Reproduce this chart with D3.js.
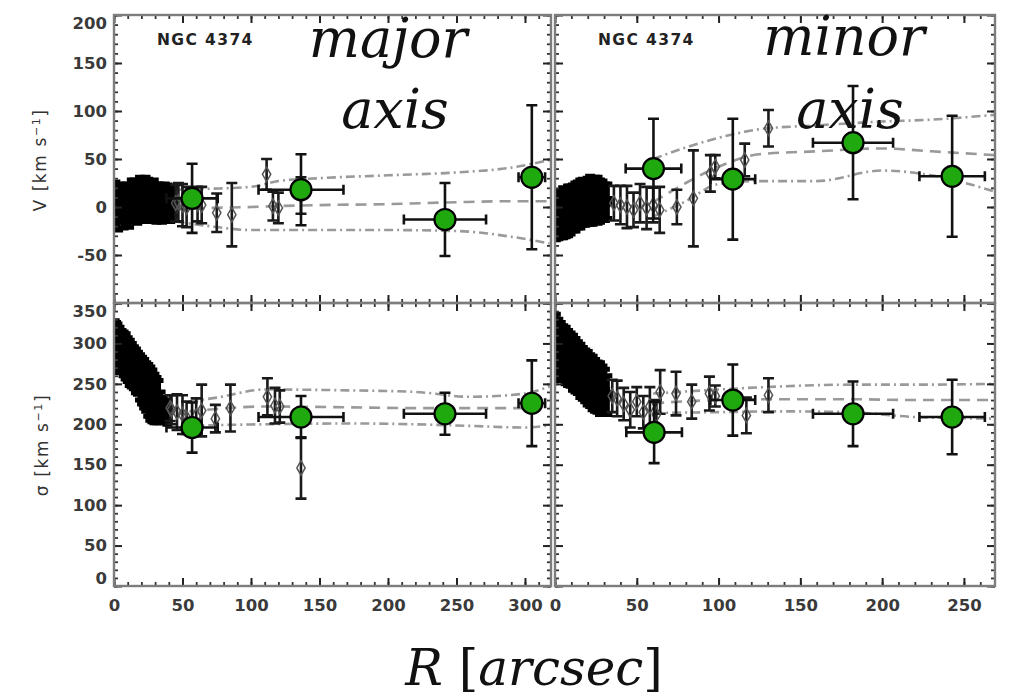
<!DOCTYPE html>
<html>
<head>
<meta charset="utf-8">
<script src="https://cdn.jsdelivr.net/npm/d3@7"></script>
<style>
  body { margin: 0; background: #fff; }
  svg { display: block; }
</style>
</head>
<body>
<svg id="chart" width="1020" height="697"></svg>
<script>
// ---- binned (green) points: [R, dR, value, dValue]
const majVGreen = [[57, 18.7, 9, 36], [136.5, 31, 18, 37], [241.6, 30, -13, 38], [305, 9.7, 31, 75]];
const majSGreen = [[57, 18.7, 196, 31], [136.5, 31, 209, 26], [241.6, 30, 213, 26], [305, 9.7, 226, 53]];
const minVGreen = [[60.2, 17, 40, 52], [108.7, 13.7, 29, 63], [182.2, 24.5, 67, 59], [242.8, 20, 32, 63]];
const minSGreen = [[60.6, 17, 190, 38], [108.7, 13.7, 230, 44], [182.2, 24.5, 213, 40], [242.8, 20, 209, 46]];

// ---- dense inner long-slit points (filled): [R, value, dValue]
const majVInner = [[1, 2, 24], [3, -2, 22], [5, 4, 20], [7, 0, 22], [9, 3, 21], [11, -1, 20], [13, 6, 22], [15, 8, 20],
  [17, 5, 22], [19, 10, 21], [21, 7, 22], [23, 11, 20], [25, 8, 21], [27, 5, 20], [29, 9, 19], [31, 4, 20],
  [33, 6, 18], [35, 3, 19], [37, 7, 17], [39, 5, 18], [41, 2, 17], [43, 6, 16]];
const majSInner = [[0.5, 300, 28], [1.5, 296, 30], [2.5, 298, 26], [4, 292, 28], [5.5, 290, 26], [7, 287, 27],
  [8.5, 284, 28], [10, 280, 27], [11.5, 276, 28], [13, 273, 27], [14.5, 270, 26], [16, 266, 27], [17.5, 263, 26],
  [19, 258, 28], [20.5, 254, 29], [22, 250, 30], [23.5, 246, 30], [25, 242, 32], [26.5, 238, 33], [28, 235, 32],
  [29.5, 232, 30], [31, 230, 28], [32.5, 228, 26], [34, 222, 18], [35.5, 218, 15], [37, 216, 14], [39, 214, 14]];
const minVInner = [[0.5, -10, 24], [2, -8, 25], [3.5, -9, 23], [5, -6, 26], [6.5, -7, 24], [8, -4, 26], [9.5, -3, 25],
  [11, -1, 24], [12.5, 0, 25], [14, 2, 24], [15.5, 3, 25], [17, 5, 24], [18.5, 4, 23], [20, 6, 24], [21.5, 7, 25],
  [23, 6, 24], [24.5, 8, 23], [26, 7, 24], [27.5, 6, 22], [29, 7, 20], [30.5, 5, 19], [32, 6, 18]];
const minSInner = [[0.5, 298, 38], [2, 294, 36], [3.5, 290, 36], [5, 288, 34], [6.5, 285, 35], [8, 282, 34],
  [9.5, 280, 33], [11, 276, 34], [12.5, 273, 33], [14, 270, 32], [15.5, 266, 33], [17, 263, 32], [18.5, 260, 32],
  [20, 257, 33], [21.5, 254, 32], [23, 251, 33], [24.5, 248, 32], [26, 246, 31], [27.5, 244, 32], [29, 242, 30],
  [30.5, 240, 28], [32, 236, 24]];

// ---- outer long-slit points (open diamonds): [R, value, dValue]
const majVOuter = [[45, 4, 19], [47, 5, 20], [50, 2, 22], [53, 0, 21], [61, 3, 18], [64, 2, 19], [75, -6, 20], [86, -8, 33],
  [111.4, 34, 16], [116, 1, 15], [120, -1, 16], [136.5, 12, 19]];
const majSOuter = [[41, 220, 16], [42, 218, 18], [46, 215, 22], [50, 212, 24], [53, 208, 20], [60, 210, 22], [64, 217, 32],
  [74, 207, 17], [85, 220, 29], [112, 234, 23], [117.5, 223, 22], [121, 222, 20], [136.5, 146, 38]];
const minVOuter = [[36, 4, 18], [40, 2, 20], [44, 0, 22], [48, -3, 18], [52, 4, 20], [56, -1, 22], [60, 2, 18], [64, -3, 24],
  [74.5, 0, 18], [84.6, 9, 50], [95, 35, 19], [98, 42, 12], [116, 49, 17], [130.5, 82, 19]];
const minSOuter = [[35, 235, 20], [38, 232, 22], [42, 225, 20], [46, 218, 22], [50, 228, 18], [54, 215, 20], [58, 222, 24],
  [62, 212, 18], [64.3, 240, 27], [74, 238, 27], [83.6, 228, 21], [94.4, 238, 21], [98, 235, 13], [117, 211, 22],
  [130.5, 236, 21]];

// ---- model envelopes: R samples and upper / middle / lower values
const majVModelR = [45, 70, 100, 120, 150, 200, 250, 290, 318];
const majVUpper  = [18, 19, 21, 27, 30, 33, 36, 41, 49];
const majVMid    = [-2, -1, 0, 1, 2, 3, 5, 6, 6];
const majVLower  = [-15, -20, -24, -24, -24, -24, -25, -31, -38];
const majSModelR = [55, 75, 110, 170, 220, 260, 300, 318];
const majSUpper  = [228, 233, 243, 242, 240, 234, 238, 247];
const majSMid    = [216, 219, 222, 221, 220, 220, 220, 222];
const majSLower  = [198, 199, 200, 201, 200, 198, 196, 199];
const minVModelR = [60, 80, 100, 125, 160, 200, 230, 269];
const minVUpper  = [50, 62, 72, 81, 85, 89, 91, 96];
const minVMid    = [5, 25, 42, 55, 58, 61, 58, 54];
const minVLower  = [-10, 6, 24, 27, 27, 38, 33, 16];
const minSModelR = [60, 100, 140, 180, 220, 269];
const minSUpper  = [238, 243, 247, 249, 249, 250];
const minSMid    = [226, 230, 231, 231, 230, 230];
const minSLower  = [214, 215, 216, 215, 209, 207];

// ---- tick values
const majRTicks = [0, 50, 100, 150, 200, 250, 300];
const minRTicks = [0, 50, 100, 150, 200, 250];
const vTicks = [-100, -50, 0, 50, 100, 150, 200];
const sTicks = [0, 50, 100, 150, 200, 250, 300, 350];

const svg = d3.select("#chart");

const xMaj = d3.scaleLinear().domain([0, 319]).range([114, 551]);
const xMin = d3.scaleLinear().domain([0, 269]).range([555, 995]);
const yV = d3.scaleLinear().domain([-100, 200]).range([303, 15]);
const yS = d3.scaleLinear().domain([0, 350]).range([586, 303]);

const panels = [
  { id: "a", x: xMaj, y: yV, xt: majRTicks, yt: vTicks, xl: false, yl: true, inner: majVInner, outer: majVOuter, green: majVGreen,
    mr: majVModelR, up: majVUpper, mid: majVMid, lo: majVLower },
  { id: "b", x: xMin, y: yV, xt: minRTicks, yt: vTicks, xl: false, yl: false, inner: minVInner, outer: minVOuter, green: minVGreen,
    mr: minVModelR, up: minVUpper, mid: minVMid, lo: minVLower },
  { id: "c", x: xMaj, y: yS, xt: majRTicks, yt: sTicks, xl: true, yl: true, inner: majSInner, outer: majSOuter, green: majSGreen,
    mr: majSModelR, up: majSUpper, mid: majSMid, lo: majSLower },
  { id: "d", x: xMin, y: yS, xt: minRTicks, yt: sTicks, xl: true, yl: false, inner: minSInner, outer: minSOuter, green: minSGreen,
    mr: minSModelR, up: minSUpper, mid: minSMid, lo: minSLower }
];

function errPath(x, y, cap) {
  return d => {
    const cx = x(d[0]), y1 = y(d[1] - d[2]), y2 = y(d[1] + d[2]);
    return `M${cx},${y1}V${y2}M${cx - cap},${y1}H${cx + cap}M${cx - cap},${y2}H${cx + cap}`;
  };
}

panels.forEach(p => {
  const [x0, x1] = p.x.range();
  const [yb, yt] = p.y.range();
  const g = svg.append("g");

  svg.append("clipPath").attr("id", "clip" + p.id)
    .append("rect").attr("x", x0).attr("y", yt).attr("width", x1 - x0).attr("height", yb - yt);
  const marks = g.append("g").attr("clip-path", `url(#clip${p.id})`);

  // model envelope lines
  const line = d3.line().x(d => p.x(d[0])).y(d => p.y(d[1])).curve(d3.curveMonotoneX);
  [[p.up, "9,4,2,4"], [p.mid, "11,7"], [p.lo, "9,4,2,4"]].forEach(([vals, dash]) => {
    marks.append("path").datum(d3.zip(p.mr, vals))
      .attr("d", line).attr("fill", "none")
      .attr("stroke", "#9a9a9a").attr("stroke-width", 2.6)
      .attr("stroke-dasharray", dash);
  });

  // dense filled points with error bars
  marks.append("g").selectAll("path").data(p.inner).join("path")
    .attr("d", errPath(p.x, p.y, 5)).attr("fill", "none")
    .attr("stroke", "#000").attr("stroke-width", 5);
  marks.append("g").selectAll("path").data(p.inner).join("path")
    .attr("transform", d => `translate(${p.x(d[0])},${p.y(d[1])})`)
    .attr("d", d3.symbol(d3.symbolSquare, 110)).attr("fill", "#000");

  // open diamonds with error bars
  marks.append("g").selectAll("path").data(p.outer).join("path")
    .attr("d", errPath(p.x, p.y, 5.5)).attr("fill", "none")
    .attr("stroke", "#1a1a1a").attr("stroke-width", 2.6);
  marks.append("g").selectAll("path").data(p.outer).join("path")
    .attr("transform", d => `translate(${p.x(d[0])},${p.y(d[1])})`)
    .attr("d", d3.symbol(d3.symbolDiamond, 60)).attr("fill", "none")
    .attr("stroke", "#555").attr("stroke-width", 1.5);

  // green binned points
  const gg = marks.append("g");
  gg.selectAll("path.v").data(p.green).join("path").attr("class", "v")
    .attr("d", d => errPath(p.x, p.y, 5.5)([d[0], d[2], d[3]]))
    .attr("fill", "none").attr("stroke", "#111").attr("stroke-width", 2.6);
  gg.selectAll("path.h").data(p.green).join("path").attr("class", "h")
    .attr("d", d => {
      const cy = p.y(d[2]), xa = p.x(d[0] - d[1]), xb = p.x(d[0] + d[1]);
      return `M${xa},${cy}H${xb}M${xa},${cy - 5}V${cy + 5}M${xb},${cy - 5}V${cy + 5}`;
    })
    .attr("fill", "none").attr("stroke", "#111").attr("stroke-width", 2.6);
  gg.selectAll("circle").data(p.green).join("circle")
    .attr("cx", d => p.x(d[0])).attr("cy", d => p.y(d[2])).attr("r", 10.5)
    .attr("fill", "#1fa90e").attr("stroke", "#000").attr("stroke-width", 2.2);

  // axes: ticks on all four sides, pointing inward
  const minorX = d3.range(0, p.x.domain()[1], 10);
  const minorY = d3.range(p.y.domain()[0], p.y.domain()[1] + 1, 10);
  const sides = [
    [d3.axisBottom, p.x, `translate(0,${yb})`, p.xt, minorX, p.xl],
    [d3.axisTop, p.x, `translate(0,${yt})`, p.xt, minorX, false],
    [d3.axisLeft, p.y, `translate(${x0},0)`, p.yt, minorY, p.yl],
    [d3.axisRight, p.y, `translate(${x1},0)`, p.yt, minorY, false]
  ];
  sides.forEach(([axisFn, scale, tr, major, minor, labels]) => {
    const isX = axisFn === d3.axisBottom || axisFn === d3.axisTop;
    const ga = g.append("g").attr("transform", tr).call(
      axisFn(scale).tickValues(minor).tickSize(-4).tickFormat(""));
    ga.select(".domain").remove();
    ga.selectAll("line").attr("stroke", "#333").attr("stroke-width", 1.8);

    const gm = g.append("g").attr("transform", tr).call(
      axisFn(scale).tickValues(major).tickSize(-8)
        .tickPadding(isX ? 13 : 7)
        .tickFormat(d => (labels && d !== -100) ? String(d) : ""));
    gm.select(".domain").remove();
    gm.selectAll("line").attr("stroke", "#222").attr("stroke-width", 2);
    gm.selectAll("text")
      .attr("font-family", "DejaVu Sans, sans-serif").attr("font-weight", "bold")
      .attr("font-size", 16.5).attr("fill", "#3a3a3a");
    if (!isX) {
      // keep end labels inside the panel height, as in the original
      gm.selectAll("text").attr("y", d => {
        const py = scale(d);
        if (py < yt + 8) return yt + 8 - py;
        if (py > yb - 8) return yb - 8 - py;
        return 0;
      });
    }
  });

  // frame
  g.append("rect").attr("x", x0).attr("y", yt).attr("width", x1 - x0).attr("height", yb - yt)
    .attr("fill", "none").attr("stroke", "#7d7d7d").attr("stroke-width", 2.4);

  // object name
  if (p.id === "a" || p.id === "b") {
    g.append("text").attr("x", x0 + 43).attr("y", 45)
      .attr("font-family", "DejaVu Sans, sans-serif").attr("font-weight", "bold")
      .attr("font-size", 15.5).attr("letter-spacing", 1.4).attr("fill", "#222")
      .text("NGC 4374");
  }
});

// axis titles
function yTitle(cx, cy, sym) {
  const t = svg.append("text")
    .attr("transform", `translate(${cx},${cy}) rotate(-90)`)
    .attr("text-anchor", "middle")
    .attr("font-family", "DejaVu Sans, sans-serif").attr("font-size", 17)
    .attr("letter-spacing", 1.6).attr("fill", "#333");
  t.append("tspan").text(sym + " [km s");
  t.append("tspan").attr("dy", -6).attr("font-size", 11).text("−1");
  t.append("tspan").attr("dy", 6).text("]");
}
yTitle(46, 160, "V");
yTitle(48, 445, "σ");

// big serif labels
const serif = "DejaVu Serif, serif";
[["major", 388, 57], ["axis", 395, 128], ["minor", 844, 55], ["axis", 850, 128]].forEach(([s, x, y]) => {
  svg.append("text").attr("x", x).attr("y", y).attr("text-anchor", "middle")
    .attr("font-family", serif).attr("font-style", "italic").attr("font-size", 54)
    .attr("fill", "#111").text(s);
});
const rl = svg.append("text").attr("x", 534).attr("y", 685).attr("text-anchor", "middle")
  .attr("font-family", serif).attr("font-size", 50).attr("fill", "#111");
rl.append("tspan").attr("font-style", "italic").text("R ");
rl.append("tspan").text("[");
rl.append("tspan").attr("font-style", "italic").text("arcsec");
rl.append("tspan").text("]");
</script>
</body>
</html>
